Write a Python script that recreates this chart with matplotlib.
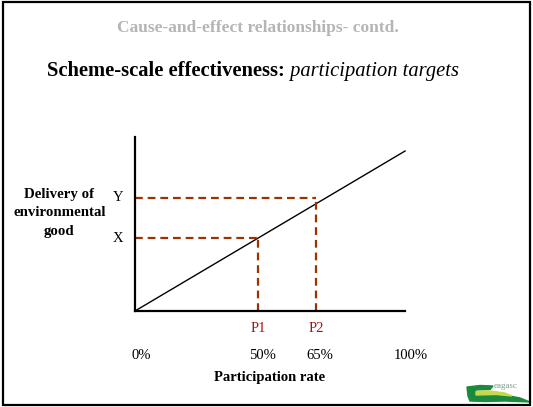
import matplotlib
matplotlib.use('Agg')
import matplotlib.pyplot as plt
from matplotlib.patches import Rectangle, Polygon

plt.rcParams['font.family'] = ['Liberation Serif', 'DejaVu Serif']

# schematic values (participation %, delivery in arbitrary units)
line_x = [0, 100]
line_y = [0, 59.2]
p_names = ['P1', 'P2']
p_rates = [45.6, 67.0]
level_names = ['X', 'Y']
levels = [27.0, 41.9]
pct_labels = ['0%', '50%', '65%', '100%']
pct_pos = [2.2, 47.4, 68.5, 102]

brown = '#993300'
red = '#a31515'

fig = plt.figure(figsize=(5.33, 4.07), dpi=100)

# slide frame
fig.patches.append(Rectangle((0.006, 0.006), 0.988, 0.988, transform=fig.transFigure,
                             fill=False, edgecolor='black', linewidth=1.6))

fig.text(0.484, 0.930, 'Cause-and-effect relationships- contd.', ha='center', va='center',
         fontsize=12.5, fontweight='bold', color='#b5b5b5')
t1 = fig.text(0.088, 0.825, 'Scheme-scale effectiveness:', ha='left', va='center',
              fontsize=14.8, fontweight='bold')

ax = fig.add_axes([0.2533, 0.2359, 0.5066, 0.4275])
ax.set_xlim(0, 100)
ax.set_ylim(0, 64.4)
for s in ['top', 'right']:
    ax.spines[s].set_visible(False)
for s in ['left', 'bottom']:
    ax.spines[s].set_linewidth(1.6)
ax.set_xticks([])
ax.set_yticks([])
ax.patch.set_alpha(0)

# italic part of the heading, chained after the bold part
ax.annotate(' participation targets', xy=(1, 0.5), xycoords=t1, ha='left', va='center',
            fontsize=14.8, style='italic', annotation_clip=False)

ax.plot(line_x, line_y, color='black', linewidth=1.0, clip_on=False)

for name, px, lname, lv in zip(p_names, p_rates, level_names, levels):
    ax.plot([0, px], [lv, lv], color=brown, linewidth=1.6, dashes=(3.5, 2.2))
    ax.plot([px, px], [0, lv], color=brown, linewidth=1.6, dashes=(3.5, 2.2))
    ax.text(px, -6.3, name, ha='center', va='center', fontsize=10.5, color=red, clip_on=False)
    ax.text(-6.3, lv, lname, ha='center', va='center', fontsize=10.5, clip_on=False)

for lab, pos in zip(pct_labels, pct_pos):
    ax.text(pos, -16.3, lab, ha='center', va='center', fontsize=10.5, clip_on=False)

ax.text(50, -24.8, 'Participation rate', ha='center', va='center', fontsize=10.5,
        fontweight='bold', clip_on=False)
ax.text(-28, 36.3, 'Delivery of\nenvironmental\ngood', ha='center', va='center',
        fontsize=10.7, fontweight='bold', linespacing=1.55, clip_on=False)

# small teagasc logo, drawn in pixel coordinates of the slide corner
lg = fig.add_axes([465 / 533, 3 / 407, 67 / 533, 22 / 407])
lg.set_xlim(465, 532)
lg.set_ylim(404, 382)
lg.axis('off')
lg.add_patch(Polygon([[467, 387], [480, 385.5], [493, 386], [490, 389.5], [476, 390],
                      [475, 395], [495, 394], [510, 396], [520, 398], [530, 402],
                      [505, 401], [485, 401.5], [470, 401], [468, 396]],
                     color='#1c8a3c'))
lg.add_patch(Polygon([[476, 391.5], [490, 391], [505, 393], [512, 396], [496, 394.5],
                      [476, 395]], color='#c5d94a'))
lg.text(494, 386.5, 'eagasc', fontsize=6.5, color='#7a9a86', va='center', ha='left')

fig.savefig('out.png', dpi=100)
